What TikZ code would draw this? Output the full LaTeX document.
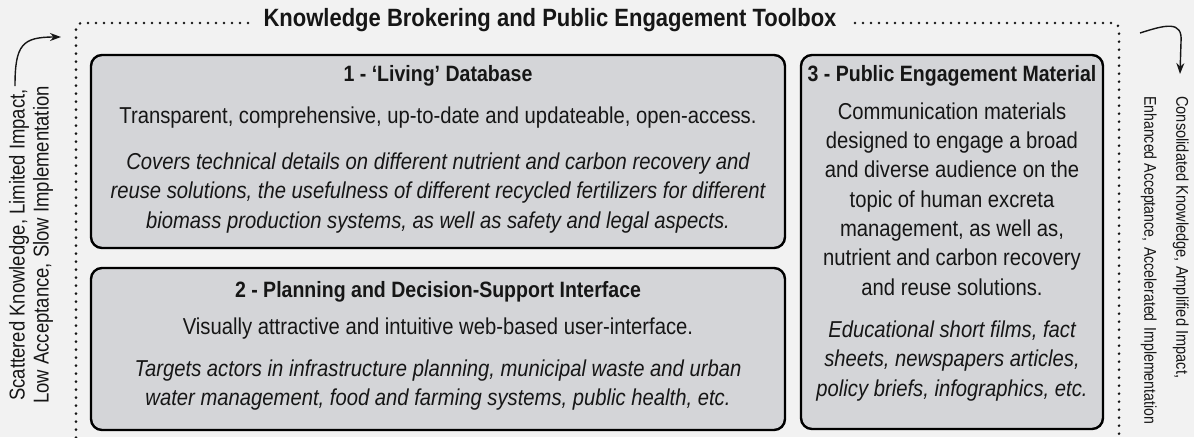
\documentclass[tikz,border=0pt]{standalone}
\usepackage{fontspec}
\setmainfont{Liberation Sans}[FakeStretch=0.88]
\newfontfamily\sidefont{Liberation Sans}[FakeStretch=0.86]
\newfontfamily\sidefontn{Liberation Sans}[FakeStretch=0.83]
\usetikzlibrary{arrows.meta}
\definecolor{bg}{HTML}{F2F2F2}
\definecolor{boxfill}{HTML}{D4D5D8}
\definecolor{ink}{HTML}{161616}
\begin{document}
\begin{tikzpicture}[x=1pt,y=-1pt,
  card/.style={draw=black,line width=2.4pt,fill=boxfill,rounded corners=11pt},
  dotframe/.style={draw=ink,line width=2.8pt,line cap=round,dash pattern=on 0pt off 8pt,rounded corners=6pt},
  txt/.style={text=ink,align=center,font=\fontsize{23}{29.3}\selectfont},
  itxt/.style={txt,font=\fontsize{23}{29.5}\selectfont\itshape},
  btxt/.style={txt,font=\fontsize{22.2}{29.3}\selectfont\bfseries},
  sidetxt/.style={text=ink,font=\sidefont\fontsize{21.5}{24}\selectfont},
  sidetxtr/.style={text=ink,inner sep=0pt,font=\sidefont\fontsize{17}{32}\selectfont},
  arr/.style={draw=ink,line width=1.4pt,-{Stealth[length=11pt,width=8pt]}}]
\fill[bg] (0,0) rectangle (1194,437);
\path[use as bounding box] (0,0) rectangle (1194,437);
% title
\node[btxt,font=\fontsize{25}{28}\selectfont\bfseries] (title) at (550,20) {Knowledge Brokering and Public Engagement Toolbox};
% dotted frame
\coordinate (fl) at (248,23);
\coordinate (fr) at (855,23);
\draw[dotframe] (fl) -- (76,23) -- (76,440);
\draw[dotframe] (fr) -- (1119,23) -- (1119,440);
% cards
\draw[card] (91,55) rectangle (785,248);
\draw[card] (91,268) rectangle (785,430);
\draw[card] (801,55) rectangle (1103,429);
% box 1
\node[btxt] (t1) at (438,76) {1 - ‘Living’ Database};
\node[txt] (p1) at (438,118) {Transparent, comprehensive, up-to-date and updateable, open-access.};
\node[itxt] (i1) at (438,193) {Covers technical details on different nutrient and carbon recovery and\\reuse solutions, the usefulness of different recycled fertilizers for different\\biomass production systems, as well as safety and legal aspects.};
% box 2
\node[btxt] (t2) at (438,292) {2 - Planning and Decision-Support Interface};
\node[txt] (p2) at (438,329) {Visually attractive and intuitive web-based user-interface.};
\node[itxt] (i2) at (438,385) {Targets actors in infrastructure planning, municipal waste and urban\\water management, food and farming systems, public health, etc.};
% box 3
\node[btxt] (t3) at (952,76) {3 - Public Engagement Material};
\node[txt] (p3) at (952,199) {Communication materials\\designed to engage a broad\\and diverse audience on the\\topic of human excreta\\management, as well as,\\nutrient and carbon recovery\\and reuse solutions.};
\node[itxt] (i3) at (952,361) {Educational short films, fact\\sheets, newspapers articles,\\policy briefs, infographics, etc.};
% left side
\node[sidetxt,align=center,rotate=90] (ls) at (31,245) {Scattered Knowledge, Limited Impact,\\Low Acceptance, Slow Implementation};
\coordinate (la0) at (15,86);
\coordinate (la1) at (61,37);
\draw[arr] (la0) .. controls (15,45) and (22,37) .. (la1);
% right side
\node[sidetxtr,align=left,rotate=-90,anchor=north west] (rs) at (1189,96) {Consolidated Knowledge, Amplified Impact,\\{\sidefontn Enhanced Acceptance,\hspace{2pt} Accelerated\hspace{2pt} Implementation}};
\coordinate (ra0) at (1140,33);
\coordinate (ra1) at (1180,74);
\draw[arr] (ra0) .. controls (1165,25) and (1183,20) .. (1181,42) -- (ra1);
\end{tikzpicture}
\end{document}
